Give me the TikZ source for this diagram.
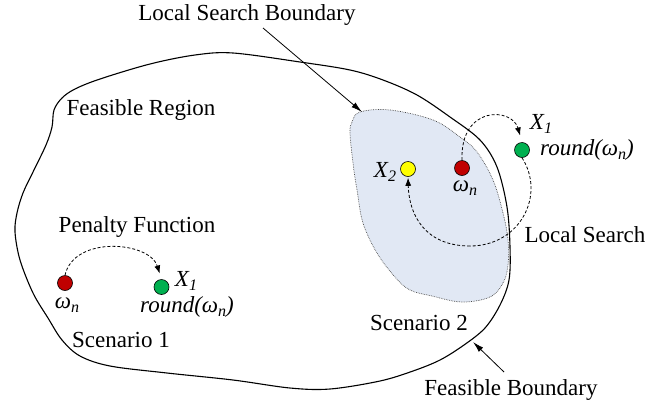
\documentclass[tikz,border=0pt]{standalone}
\usepackage{fontspec}
\setmainfont{Liberation Serif}
\usetikzlibrary{arrows.meta}
\definecolor{dotred}{HTML}{C00000}
\definecolor{dotgreen}{HTML}{00B050}
\definecolor{dotyellow}{HTML}{FFFF00}
\definecolor{lsfill}{HTML}{E1E8F4}
\newcommand\mysub[1]{\raisebox{-0.35ex}{\fontsize{16}{16}\selectfont\itshape #1}}
\tikzset{
  lbl/.style={inner sep=0pt, font=\fontsize{23}{27}\selectfont},
  ilbl/.style={inner sep=0pt, font=\fontsize{23}{27}\selectfont\itshape},
  dot/.style={circle, draw=black, line width=0.6pt, minimum size=15pt, inner sep=0pt},
  dasharr/.style={dashed, dash pattern=on 3pt off 2pt, line width=0.8pt, -{Latex[length=8pt,width=6pt]}},
  solarr/.style={line width=0.8pt, -{Latex[length=11pt,width=6pt]}},
  outline/.style={line width=1.1pt},
}
\begin{document}
\begin{tikzpicture}[x=1pt,y=-1pt]
\useasboundingbox (0,0) rectangle (668,410);
% local search region
\draw[fill=lsfill, draw=black!70, densely dotted, line width=0.7pt]
  plot[smooth cycle, tension=0.6] coordinates {
  (360,112) (352,122) (350,133) (353,163) (357,190) (363,223) (377,253) (395,277)
  (410,290) (432,296) (462,302) (490,297) (503,283) (508,265) (508,240) (503,213) (493,180)
  (477,152) (460,137) (433,120) (390,110)};
% feasible region
\draw[outline] plot[smooth cycle, tension=0.55] coordinates {
  (233,53) (300,62) (350,70) (383,80) (417,95) (450,117) (480,140) (497,167)
  (507,207) (510,247) (509,280) (500,305) (485,328) (464,345) (440,360) (413,371)
  (380,381) (330,389) (290,388) (233,380) (167,373) (110,366) (80,356) (62,340)
  (48,318) (33,293) (20,260) (15,232) (17,213) (23,193) (33,172) (46,145)
  (52,127) (54,110) (62,98) (75,89) (100,79) (150,64) (195,55)};

% texts
\node[lbl] (lsb) at (247,15) {Local Search Boundary};
\node[lbl] (fr) at (141,110) {Feasible Region};
\node[lbl] (pf) at (137,227) {Penalty Function};
\node[lbl] (s1) at (121,340) {Scenario 1};
\node[lbl] (s2) at (419,323) {Scenario 2};
\node[lbl] (fb) at (511,390) {Feasible Boundary};
\node[lbl] (ls) at (585,235) {Local Search};

% scenario 1 dots
\node[dot, fill=dotred] (r1) at (65,283) {};
\node[dot, fill=dotgreen] (g1) at (161.5,287) {};
\node[ilbl] (w1) at (67,305) {ω\mysub{n}};
\node[ilbl] (x1a) at (186,281) {X\mysub{1}};
\node[ilbl] (rd1) at (187,307) {round(ω\mysub{n})};

% scenario 2 dots
\node[dot, fill=dotred] (r2) at (462,168) {};
\node[dot, fill=dotyellow] (y2) at (408,169) {};
\node[dot, fill=dotgreen] (g2) at (522,150) {};
\node[ilbl] (w2) at (465,188) {ω\mysub{n}};
\node[ilbl] (x2) at (385,172) {X\mysub{2}};
\node[ilbl] (x1b) at (541,124) {X\mysub{1}};
\node[ilbl] (rd2) at (587,150) {round(ω\mysub{n})};

% connectors
\coordinate (lsbend) at (362,112);
\coordinate (lsbstart) at (263,28);
\draw[solarr] (lsbstart) -- (lsbend);
\coordinate (fbstart) at (504,372);
\coordinate (fbend) at (473,342);
\draw[solarr] (fbstart) -- (fbend);

\draw[dasharr, shorten >=6pt] (r1.north) .. controls +(9,-40) and +(-12,-38) .. (g1.north);
\draw[dasharr, shorten >=7pt] (r2.north) .. controls +(-2,-55) and +(-10,-35) .. (g2.north);
\coordinate (lsbot) at (470,246);
\draw[dashed, dash pattern=on 3pt off 2pt, line width=0.8pt] (g2.south) .. controls (546,195) and (520,246) .. (lsbot);
\draw[dasharr, shorten >=1pt] (lsbot) .. controls (425,246) and (409,215) .. (y2.south);
\end{tikzpicture}
\end{document}
